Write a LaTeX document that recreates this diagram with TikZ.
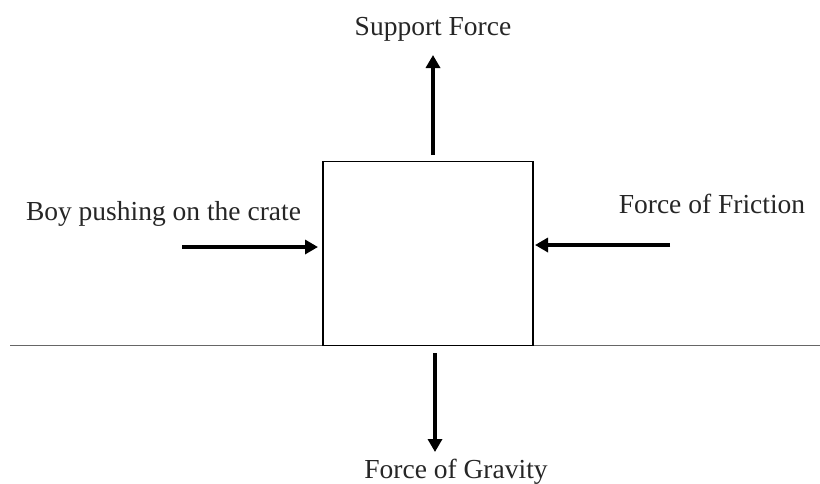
\documentclass[tikz,border=0pt]{standalone}
\usepackage{fontspec}
\setmainfont{Liberation Serif}
\usetikzlibrary{arrows.meta}
\begin{document}
\begin{tikzpicture}[x=1pt,y=-1pt,
  force/.style={line width=4.5pt,-{Triangle[width=14pt,length=13pt]}},
  lbl/.style={anchor=base,inner sep=0pt,text=black!85,font=\fontsize{27.5}{30}\selectfont},
  crate/.style={draw,line width=1.3pt,minimum width=210pt,minimum height=184pt,inner sep=0pt}]
\useasboundingbox (0,0) rectangle (820,483);
\fill[white] (0,0) rectangle (820,483);
\draw[black!60,line width=1.2pt] (10,345.5) coordinate (g1) -- (820,345.5) coordinate (g2);
\node[crate] (box) at (428,253.5) {};
\coordinate (upS) at (433,155);
\coordinate (upE) at (433,55);
\coordinate (lS) at (182,247);
\coordinate (lE) at (318,247);
\coordinate (rS) at (670,245);
\coordinate (rE) at (535,245);
\coordinate (dS) at (435,353);
\coordinate (dE) at (435,452);
\draw[force] (upS) -- (upE);
\draw[force] (lS) -- (lE);
\draw[force] (rS) -- (rE);
\draw[force] (dS) -- (dE);
\node[lbl] (sup) at (433,35) {Support Force};
\node[lbl] (boy) at (163.5,220) {Boy pushing on the crate};
\node[lbl] (fric) at (712,213) {Force of Friction};
\node[lbl] (grav) at (456,478) {Force of Gravity};
\end{tikzpicture}
\end{document}
